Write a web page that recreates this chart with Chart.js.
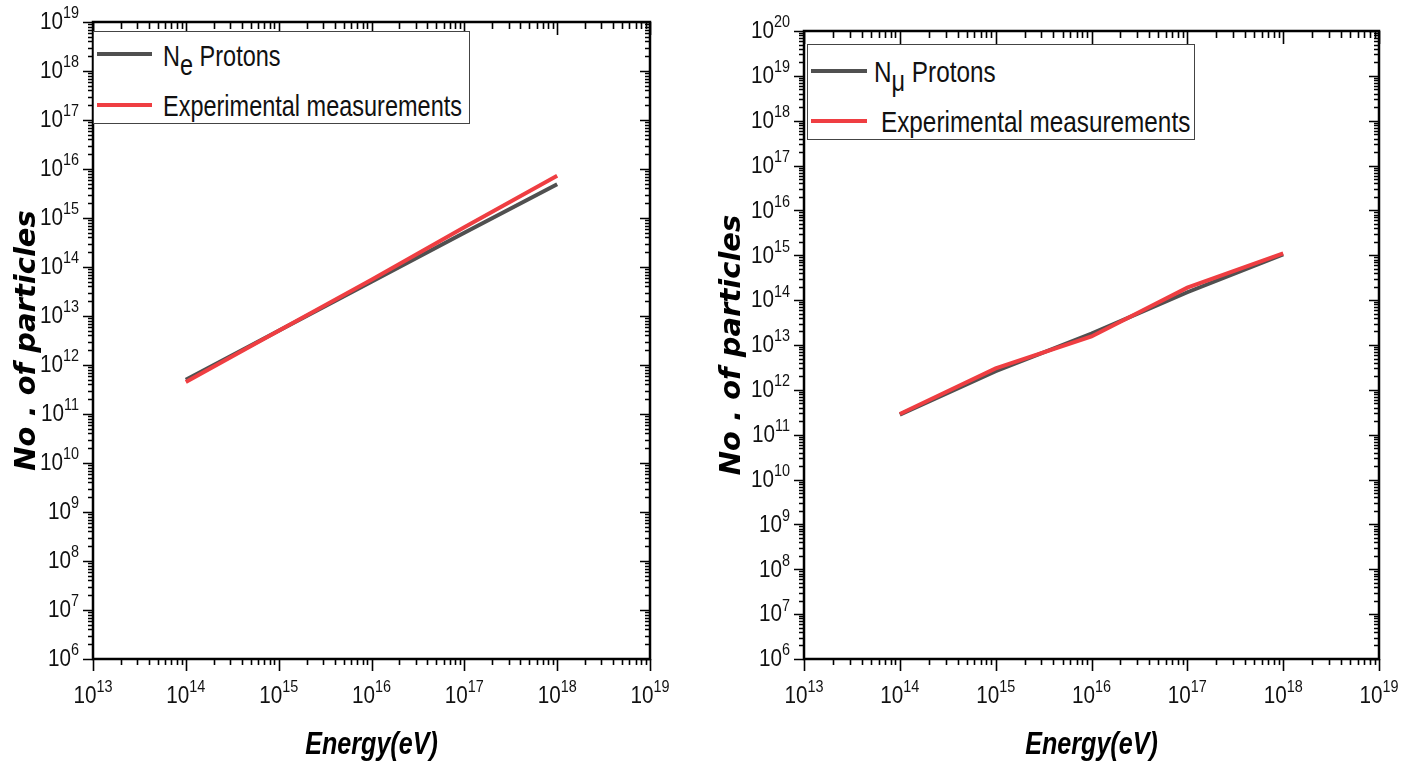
<!DOCTYPE html>
<html>
<head>
<meta charset="utf-8">
<script src="https://cdn.jsdelivr.net/npm/chart.js@4/dist/chart.umd.min.js"></script>
<style>
  html, body { margin: 0; padding: 0; background: #fff; }
  #wrap { position: relative; width: 1408px; height: 766px; overflow: hidden; }
  canvas { position: absolute; top: 0; }
  .legend { position: absolute; background: #fff; border: 1.5px solid #444; box-sizing: border-box; }
  .lg-line { position: absolute; height: 4px; }
  .lg-text { position: absolute; font-family: "Liberation Sans", Arial, sans-serif; font-size: 29px; color: #111; white-space: nowrap; line-height: 1; transform: scaleX(0.81); transform-origin: 0 0; }
  .lg-text sub { font-size: 29px; vertical-align: -9px; line-height: 0; }
</style>
</head>
<body>
<div id="wrap">
  <canvas id="c1" width="704" height="766" style="left:0"></canvas>
  <canvas id="c2" width="704" height="766" style="left:704px"></canvas>

  <div class="legend" style="left:93px; top:31px; width:377px; height:93px;">
    <div class="lg-line" style="left:3px; top:20px; width:55px; background:#505050;"></div>
    <div class="lg-text" style="left:69px; top:10px;">N<sub>e</sub> Protons</div>
    <div class="lg-line" style="left:3px; top:71px; width:55px; background:#ef3e42;"></div>
    <div class="lg-text" style="left:69px; top:60px;">Experimental measurements</div>
  </div>

  <div class="legend" style="left:807px; top:44px; width:388px; height:96px;">
    <div class="lg-line" style="left:3px; top:24px; width:56px; background:#505050;"></div>
    <div class="lg-text" style="left:66px; top:12px; font-size:30px;">N<sub>μ</sub> Protons</div>
    <div class="lg-line" style="left:3px; top:74px; width:56px; background:#ef3e42;"></div>
    <div class="lg-text" style="left:73px; top:62px; font-size:30px;">Experimental measurements</div>
  </div>
</div>
<script>
// ---- data ----
const energy = [1e14, 1e15, 1e16, 1e17, 1e18];
const neProtons = [5e11, 5e12, 5e13, 5e14, 4.9e15];
const neExperimental = [4.5e11, 5e12, 5.5e13, 6.5e14, 7.3e15];
const nmuProtons = [2.8e11, 2.6e12, 1.8e13, 1.5e14, 1.05e15];
const nmuExperimental = [2.9e11, 3.0e12, 1.55e13, 1.9e14, 1.1e15];

const xTickExponents = [13, 14, 15, 16, 17, 18, 19];
const yTickExponentsLeft = [6, 7, 8, 9, 10, 11, 12, 13, 14, 15, 16, 17, 18, 19];
const yTickExponentsRight = [6, 7, 8, 9, 10, 11, 12, 13, 14, 15, 16, 17, 18, 19, 20];

const labelProtons = ['Ne Protons', 'Nμ Protons'];
const labelExperimental = 'Experimental measurements';
const xTitle = 'Energy(eV)';
const yTitle = 'No . of particles';

const GRAY = '#505050';
const RED = '#ef3e42';
const SANS = '"Liberation Sans", Arial, sans-serif';

function pts(xs, ys) { return xs.map((x, i) => ({ x: x, y: ys[i] })); }

// Frame, log ticks, superscript labels and x title (condensed)
const frameTicks = {
  id: 'frameTicks',
  afterDraw(chart, args, opts) {
    const ctx = chart.ctx;
    const a = chart.chartArea;
    const xs = chart.scales.x, ys = chart.scales.y;
    ctx.save();
    ctx.strokeStyle = '#000';
    ctx.lineWidth = 2.5;
    ctx.strokeRect(a.left, a.top, a.right - a.left, a.bottom - a.top);
    ctx.lineWidth = 1.6;
    const xe = opts.xExp;
    for (let e = xe[0]; e <= xe[xe.length - 1]; e++) {
      for (let m = 1; m <= 9; m++) {
        if (e === xe[xe.length - 1] && m > 1) break;
        const px = Math.round(xs.getPixelForValue(m * Math.pow(10, e))) + 0.5;
        const major = m === 1;
        ctx.beginPath();
        ctx.moveTo(px, a.bottom); ctx.lineTo(px, a.bottom + (major ? 12 : 6));
        ctx.moveTo(px, a.top); ctx.lineTo(px, a.top + (major ? 13 : 7));
        ctx.stroke();
      }
    }
    const ye = opts.yExp;
    for (let e = ye[0]; e <= ye[ye.length - 1]; e++) {
      for (let m = 1; m <= 9; m++) {
        if (e === ye[ye.length - 1] && m > 1) break;
        const py = Math.round(ys.getPixelForValue(m * Math.pow(10, e))) + 0.5;
        const major = m === 1;
        ctx.beginPath();
        ctx.moveTo(a.left, py); ctx.lineTo(a.left - (major ? 10 : 5), py);
        ctx.moveTo(a.right, py); ctx.lineTo(a.right - (major ? 10 : 5), py);
        ctx.stroke();
      }
    }
    // tick labels: 10 with superscript exponent, slightly condensed
    ctx.fillStyle = '#111';
    ctx.textBaseline = 'middle';
    ctx.textAlign = 'left';
    const SX = 0.9;
    const baseFont = '23px ' + SANS;
    const expFont = '16px ' + SANS;
    function drawSup(exp, x, y, align) {
      ctx.font = baseFont; const wb = ctx.measureText('10').width * SX;
      ctx.font = expFont; const we = ctx.measureText(String(exp)).width * SX;
      const total = wb + we;
      const sx = align === 'right' ? x - total : x - total / 2;
      ctx.save(); ctx.translate(sx, y); ctx.scale(SX, 1);
      ctx.font = baseFont; ctx.fillText('10', 0, 0);
      ctx.restore();
      ctx.save(); ctx.translate(sx + wb, y - 9); ctx.scale(SX, 1);
      ctx.font = expFont; ctx.fillText(String(exp), 0, 0);
      ctx.restore();
    }
    xe.forEach(e => drawSup(e, xs.getPixelForValue(Math.pow(10, e)), a.bottom + 38, 'center'));
    ye.forEach(e => drawSup(e, a.left - 14, ys.getPixelForValue(Math.pow(10, e)) + 1, 'right'));
    // x axis title (condensed bold italic)
    ctx.save();
    ctx.translate((a.left + a.right) / 2, 745);
    ctx.scale(0.81, 1);
    ctx.font = 'italic bold 31px ' + SANS;
    ctx.fillStyle = '#000';
    ctx.textAlign = 'center';
    ctx.textBaseline = 'middle';
    ctx.fillText(opts.xTitle, 0, 0);
    ctx.restore();
    ctx.restore();
  }
};

function makeChart(id, protons, experimental, protonLabel, yMax, yExp, pad, yTitlePad) {
  return new Chart(document.getElementById(id), {
    type: 'line',
    data: {
      datasets: [
        { label: protonLabel, data: pts(energy, protons), borderColor: GRAY, backgroundColor: GRAY,
          borderWidth: 4, pointRadius: 0, tension: 0, order: 1 },
        { label: labelExperimental, data: pts(energy, experimental), borderColor: RED, backgroundColor: RED,
          borderWidth: 4, pointRadius: 0, tension: 0, order: 0 }
      ]
    },
    options: {
      responsive: false,
      animation: false,
      devicePixelRatio: 1,
      layout: { padding: pad },
      plugins: { legend: { display: false }, tooltip: { enabled: false },
        frameTicks: { xExp: xTickExponents, yExp: yExp, xTitle: xTitle } },
      scales: {
        x: {
          type: 'logarithmic', min: 1e13, max: 1e19,
          grid: { display: false }, border: { display: false },
          ticks: { display: false },
          afterFit(s) { s.height = 766 - 659; },
          title: { display: false, text: xTitle }
        },
        y: {
          type: 'logarithmic', min: 1e6, max: yMax,
          grid: { display: false }, border: { display: false },
          ticks: { display: false },
          afterFit(s) { s.width = pad.axisW; },
          title: { display: true, text: yTitle, color: '#000',
            font: { family: '"DejaVu Sans", sans-serif', size: 29, weight: 'bold', style: 'italic', lineHeight: 1 },
            padding: { top: yTitlePad, bottom: 0 } }
        }
      }
    },
    plugins: [frameTicks]
  });
}

makeChart('c1', neProtons, neExperimental, labelProtons[0], 1e19, yTickExponentsLeft,
  { top: 22, right: 54, left: 0, bottom: 0, axisW: 93 }, 13);
makeChart('c2', nmuProtons, nmuExperimental, labelProtons[1], 1e20, yTickExponentsRight,
  { top: 31, right: 29, left: 0, bottom: 0, axisW: 100 }, 14);
</script>
</body>
</html>
